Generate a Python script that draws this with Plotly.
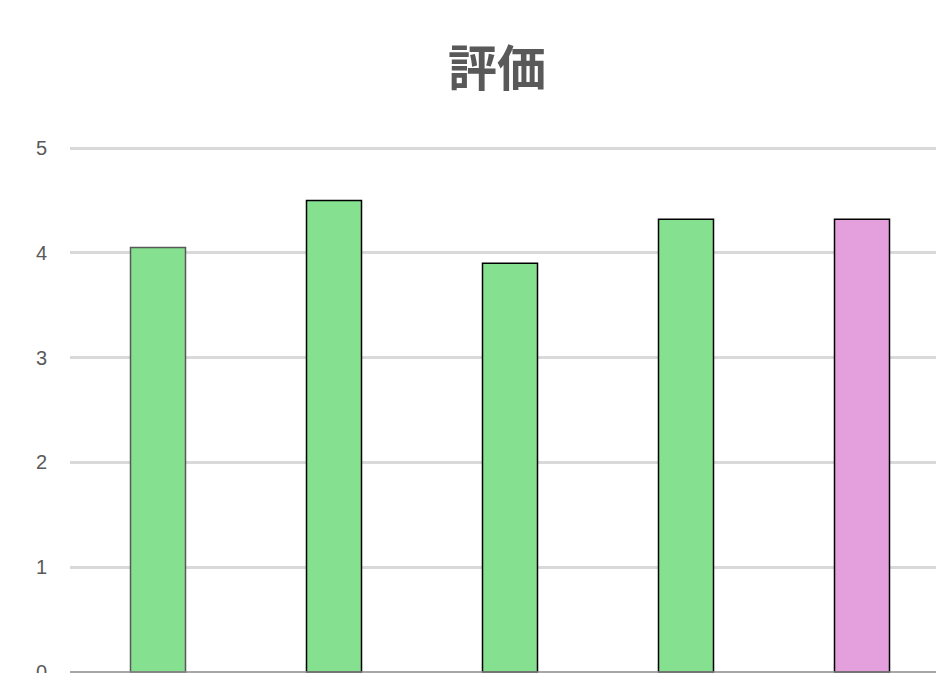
import plotly.graph_objects as go

# Ratings per item
categories = ["A", "B", "C", "D", "E"]
scores = [4.05, 4.50, 3.90, 4.32, 4.32]
fill_colors = ["#85e08f", "#85e08f", "#85e08f", "#85e08f", "#e3a0dc"]
edge_colors = ["#595959", "#000000", "#000000", "#000000", "#000000"]
y_ticks = [0, 1, 2, 3, 4, 5]

W, H = 936, 673
left, top, bottom = 70, 143, 0
band_px = 176  # pixel width of one category slot
unit_px = 104.8  # pixels per rating point
y_lo = -1 / unit_px
y_hi = 5 + 5 / unit_px

fig = go.Figure(
    go.Bar(
        x=list(range(len(categories))),
        y=scores,
        width=55 / band_px,
        marker=dict(color=fill_colors, line=dict(color=edge_colors, width=1.5)),
        hoverinfo="skip",
    )
)

fig.update_layout(
    width=W,
    height=H,
    margin=dict(l=left, r=0, t=top, b=bottom, pad=0, autoexpand=False),
    paper_bgcolor="white",
    plot_bgcolor="white",
    showlegend=False,
    title=dict(
        text="<b>評価</b>",
        x=497 / W,
        xanchor="center",
        y=1 - 69 / H,
        yanchor="middle",
        font=dict(family="Noto Sans CJK JP", size=49, color="#595959"),
    ),
    xaxis=dict(
        range=[-0.5, -0.5 + (W - left) / band_px],
        showticklabels=False,
        showgrid=False,
        zeroline=False,
        showline=False,
        ticks="",
        automargin=False,
    ),
    yaxis=dict(
        range=[y_lo, y_hi],
        tickvals=y_ticks,
        ticktext=[str(v) for v in y_ticks],
        showgrid=True,
        gridcolor="#d9d9d9",
        gridwidth=2.5,
        zeroline=False,
        showline=False,
        ticks="",
        ticklabelstandoff=22,
        ticklabeloverflow="allow",
        automargin=False,
        tickfont=dict(family="Liberation Sans", size=20, color="#595959"),
    ),
    shapes=[
        dict(
            type="line",
            xref="paper",
            yref="y",
            x0=0,
            x1=1,
            y0=0,
            y1=0,
            line=dict(color="#8a8a8a", width=1.5),
            layer="above",
        )
    ],
)

fig.write_html("out.html")
